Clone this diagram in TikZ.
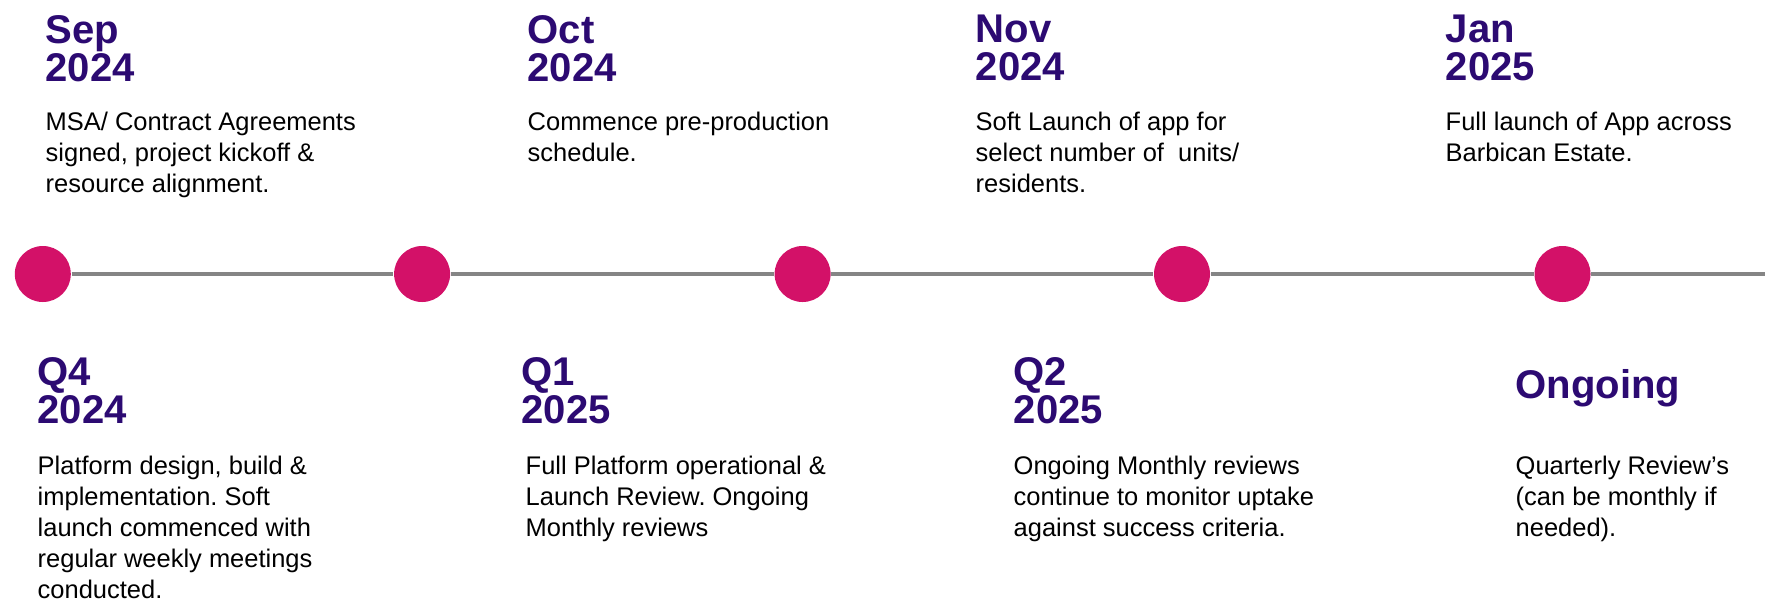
\documentclass[tikz,border=0pt]{standalone}
\usepackage{fontspec}
\setmainfont{Liberation Sans}
\usepackage{tikz}
\usepackage{xcolor}
\usetikzlibrary{positioning}

\definecolor{dotpink}{HTML}{D31168}
\definecolor{headpurple}{HTML}{2C0A72}
\definecolor{linegray}{HTML}{858585}

\frenchspacing
\begin{document}
\begin{tikzpicture}[
  milestone/.style={circle, fill=dotpink, draw=none, minimum size=0.56cm, inner sep=0pt},
  datehead/.style={anchor=north west, inner sep=0pt, align=left, text=headpurple, font=\fontsize{11.4}{10.8}\selectfont\bfseries, execute at begin node=\strut},
  notetext/.style={anchor=north west, inner sep=0pt, align=left, text=black, font=\fontsize{7.25}{8.8}\selectfont, execute at begin node=\strut},
  track/.style={draw=linegray, line width=1.15pt}
]
\useasboundingbox (0,0) rectangle (17.65,-6.06);

% milestones on the timeline
\node[milestone] (m1) at (0.428,-2.74) {};
\node[milestone] (m2) at (4.221,-2.74) {};
\node[milestone] (m3) at (8.026,-2.74) {};
\node[milestone] (m4) at (11.82,-2.74) {};
\node[milestone] (m5) at (15.625,-2.74) {};
\coordinate (trackend) at (17.65,-2.74);
\draw[track] (m1) -- (m2);
\draw[track] (m2) -- (m3);
\draw[track] (m3) -- (m4);
\draw[track] (m4) -- (m5);
\draw[track] (m5) -- (trackend);

% above the line
\node[datehead] (sep) at (0.45,-0.144) {Sep\\2024};
\node[datehead] (oct) at (5.27,-0.144) {Oct\\2024};
\node[datehead] (nov) at (9.75,-0.144) {Nov\\2024};
\node[datehead] (jan) at (14.45,-0.144) {Jan\\2025};
\node[notetext] (septext) at (0.45,-1.113) {MSA/ Contract Agreements\\signed, project kickoff \&\\resource alignment.};
\node[notetext] (octtext) at (5.27,-1.113) {Commence pre-production\\schedule.};
\node[notetext] (novtext) at (9.75,-1.113) {Soft Launch of app for\\select number of\ \ units/\\residents.};
\node[notetext] (jantext) at (14.45,-1.113) {Full launch of App across\\Barbican Estate.};

% below the line
\node[datehead] (qfour) at (0.37,-3.564) {Q4\\2024};
\node[datehead] (qone) at (5.21,-3.564) {Q1\\2025};
\node[datehead] (qtwo) at (10.13,-3.564) {Q2\\2025};
\node[datehead] (ongoing) at (15.15,-3.684) {Ongoing};
\node[notetext] (qfourtext) at (0.37,-4.553) {Platform design, build \&\\implementation. Soft\\launch commenced with\\regular weekly meetings\\conducted.};
\node[notetext] (qonetext) at (5.25,-4.553) {Full Platform operational \&\\Launch Review. Ongoing\\Monthly reviews};
\node[notetext] (qtwotext) at (10.13,-4.553) {Ongoing Monthly reviews\\continue to monitor uptake\\against success criteria.};
\node[notetext] (ongoingtext) at (15.15,-4.553) {Quarterly Review’s\\(can be monthly if\\needed).};
\end{tikzpicture}
\end{document}
